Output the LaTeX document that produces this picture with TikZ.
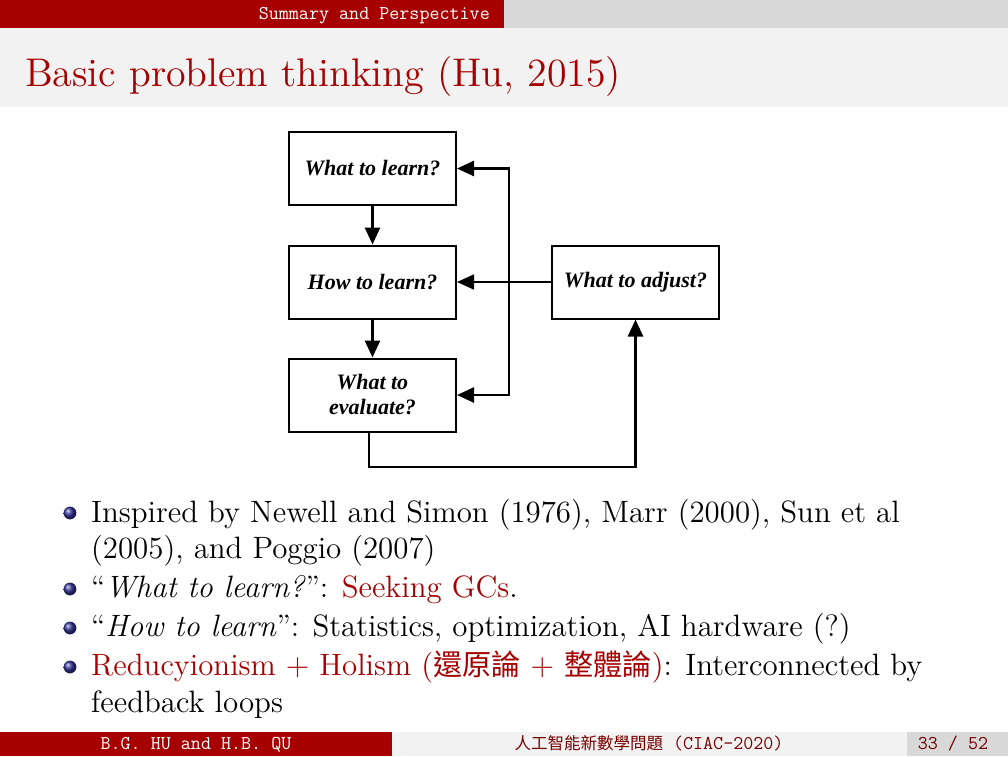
\documentclass[tikz,border=0pt]{standalone}
\usepackage{graphicx}
\usepackage{fontspec}
\usetikzlibrary{arrows.meta,calc}
\newfontfamily\cjk{Noto Sans CJK TC}
\newfontfamily\boxfont{Liberation Serif}
\definecolor{mainred}{RGB}{166,0,0}
\definecolor{darkred}{RGB}{120,0,0}
\definecolor{barlight}{RGB}{242,242,242}
\definecolor{bardark}{RGB}{216,216,216}
\definecolor{ballblue}{RGB}{50,50,150}
\newcommand\bigtxt[2]{\scalebox{2.778}{\fontsize{#1}{#1}\selectfont #2}}
\tikzset{
  qbox/.style={draw=black, line width=2pt, minimum width=167pt, minimum height=73pt,
    inner sep=0pt, align=center, font=\boxfont\bfseries\itshape\fontsize{22}{25}\selectfont},
  thick arr/.style={line width=2.6pt, -{Triangle[length=17pt,width=15pt]}},
  thin arr/.style={line width=1.6pt, -{Triangle[length=17pt,width=15pt]}},
  loopline/.style={line width=2.6pt},
  bodytext/.style={anchor=base west, inner sep=0pt},
  bul/.style={ball color=ballblue, draw=none},
  headtext/.style={inner sep=0pt, font=\ttfamily\fontsize{19.5}{22}\selectfont}
}
\begin{document}
\begin{tikzpicture}[x=1pt,y=-1pt]
\useasboundingbox (0,0) rectangle (1008,756);
\fill[white] (0,0) rectangle (1008,756);
% headline
\fill[mainred] (0,0) rectangle (504,28);
\fill[bardark] (504,0) rectangle (1008,28);
\node[headtext, text=white, anchor=base east] (head) at (490,19) {Summary and Perspective};
% title bar
\fill[barlight] (0,28) rectangle (1008,107);
\node[anchor=base west, inner sep=0pt, text=mainred] (title) at (25,86) {\bigtxt{14.4}{Basic problem thinking (Hu, 2015)}};
% diagram
\node[qbox] (learn) at (372.5,168.5) {What to learn?};
\node[qbox] (how) at (372.5,282) {How to learn?};
\node[qbox] (eval) at (372.5,395) {What to\\evaluate?};
\node[qbox] (adjust) at (635.5,282) {What to adjust?};
\draw[thick arr] (learn.south) -- (how.north);
\draw[thick arr] (how.south) -- (eval.north);
\draw[thin arr] (adjust.west) -- (how.east);
\coordinate (top) at (509,168.5);
\coordinate (bot) at (509,395);
\draw[loopline] ($(top)+(0,-1.3)$) -- ($(bot)+(0,1.3)$);
\draw[thick arr] (top) -- (learn.east);
\draw[thick arr] (bot) -- (eval.east);
\coordinate (low) at (369,467);
\draw[thick arr] (eval.south -| low) -- (low) -| (adjust.south);
% bullets
\shade[bul] (70,513) circle (6.4);
\shade[bul] (70,589) circle (6.4);
\shade[bul] (70,628) circle (6.4);
\shade[bul] (70,667) circle (6.4);
\node[bodytext] (l1) at (91,522) {\bigtxt{11.12}{Inspired by Newell and Simon (1976), Marr (2000), Sun et al}};
\node[bodytext] (l2) at (91,558) {\bigtxt{11.12}{(2005), and Poggio (2007)}};
\node[bodytext] (l3) at (91,597) {\bigtxt{11.12}{``\textit{What to learn?}'': \textcolor{mainred}{Seeking GCs}.}};
\node[bodytext] (l4) at (91,636) {\bigtxt{11.12}{``\textit{How to learn}'': Statistics, optimization, AI hardware (?)}};
\node[bodytext] (l5) at (91,675) {\bigtxt{11.12}{\textcolor{mainred}{Reducyionism + Holism ({\cjk\fontsize{10.5}{11}\selectfont 還原論} + {\cjk\fontsize{10.5}{11}\selectfont 整體論})}: Interconnected by}};
\node[bodytext] (l6) at (91,712) {\bigtxt{11.12}{feedback loops}};
% footer
\fill[mainred] (0,732) rectangle (392,756);
\fill[barlight] (392,732) rectangle (907,756);
\fill[bardark] (907,732) rectangle (1008,756);
\node[headtext, text=white, anchor=base] (f1) at (196,749) {B.G. HU and H.B. QU};
\node[headtext, text=darkred, anchor=base] (f2) at (649,749) {{\cjk\fontsize{16.5}{18}\selectfont 人工智能新數學問題} (CIAC-2020)};
\node[headtext, text=darkred, anchor=base] (f3) at (953,749) {33 / 52};
\end{tikzpicture}
\end{document}
